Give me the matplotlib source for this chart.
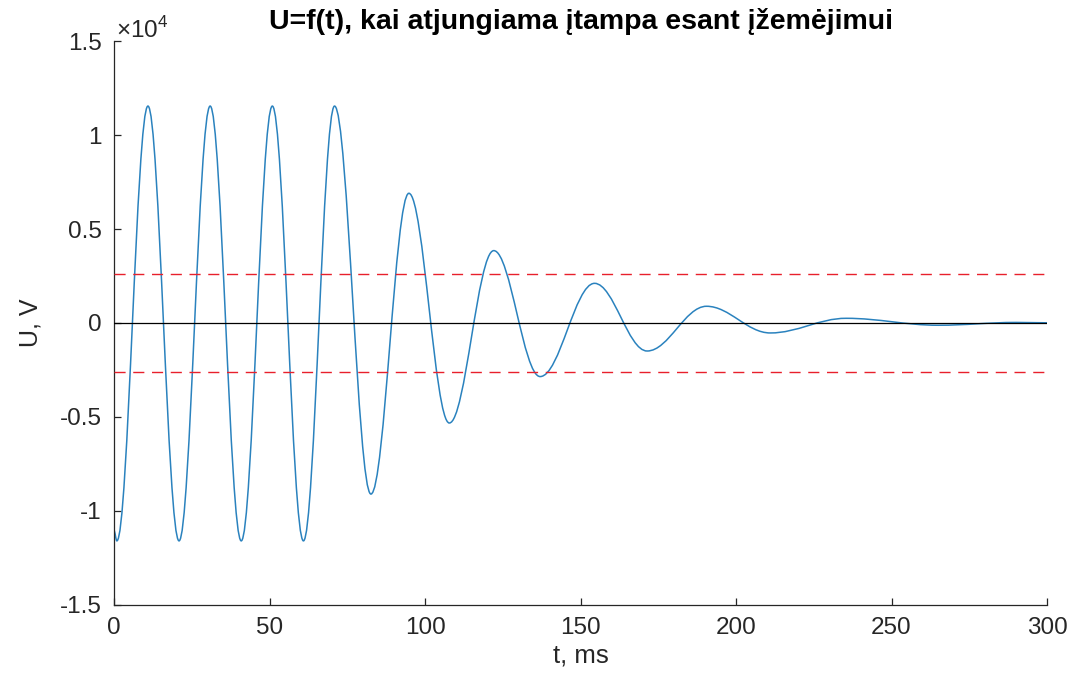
import matplotlib
matplotlib.use("Agg")
import matplotlib.pyplot as plt
from matplotlib.path import Path
from matplotlib.patches import PathPatch

plt.rcParams['font.family'] = ['Liberation Sans', 'DejaVu Sans']
plt.rcParams['mathtext.fontset'] = 'custom'
plt.rcParams['mathtext.rm'] = 'Liberation Sans'

# turning points of the voltage after disconnection (t in ms, U in V)
t_turn = [0.0, 0.9, 10.9, 20.9, 30.9, 40.9, 50.9, 60.9, 70.9, 82.6, 94.8,
          107.8, 122.1, 137.0, 154.5, 171.4, 190.5, 211.0, 235.4, 265.0,
          290.0, 300.0]
u_turn = [-11050, -11590, 11540, -11590, 11540, -11590, 11540, -11590, 11540,
          -9100, 6900, -5320, 3850, -2850, 2110, -1490, 890, -530, 250, -120,
          30, 10]

u_limit = 2600          # allowed voltage level, V
t_span = [0, 300]
y_ticks = [-15000, -10000, -5000, 0, 5000, 10000, 15000]
y_ticklabels = ['-1.5', '-1', '-0.5', '0', '0.5', '1', '1.5']
x_ticks = [0, 50, 100, 150, 200, 250, 300]

fig = plt.figure(figsize=(10.81, 6.77), dpi=100)
ax = fig.add_axes([0.1055, 0.1064, 0.8631, 0.833])

# smooth curve through the turning points (horizontal tangent at each one)
verts = [(t_turn[0], u_turn[0])]
codes = [Path.MOVETO]
for t0, u0, t1, u1 in zip(t_turn[:-1], u_turn[:-1], t_turn[1:], u_turn[1:]):
    d = (t1 - t0) * 0.363
    verts += [(t0 + d, u0), (t1 - d, u1), (t1, u1)]
    codes += [Path.CURVE4] * 3
ax.add_patch(PathPatch(Path(verts, codes), fill=False, edgecolor='#2a82be',
                       lw=1.1, zorder=2))

ax.plot(t_span, [0, 0], color='black', lw=0.9, zorder=3)
ax.plot(t_span, [u_limit, u_limit], color='#e8202c', lw=1.0,
        dashes=(8, 5.5), zorder=3)
ax.plot(t_span, [-u_limit, -u_limit], color='#e8202c', lw=1.0,
        dashes=(8, 5.5), zorder=3)

ax.set_xlim(0, 300)
ax.set_ylim(-15000, 15000)
ax.set_xticks(x_ticks)
ax.set_yticks(y_ticks)
ax.set_yticklabels(y_ticklabels)

for side in ['top', 'right']:
    ax.spines[side].set_visible(False)
for side in ['left', 'bottom']:
    ax.spines[side].set_color('#262626')
    ax.spines[side].set_linewidth(0.9)
ax.tick_params(direction='in', length=5, width=0.9, colors='#262626',
               labelsize=17.5, pad=9)

ax.set_title('U=f(t), kai atjungiama įtampa esant įžemėjimui',
             fontsize=20.5, fontweight='bold', pad=9)
ax.set_xlabel('t, ms', fontsize=18.5, color='#262626', labelpad=3)
ax.set_ylabel('U, V', fontsize=18, color='#262626', labelpad=12)
fig.text(0.107, 0.944, r'$\times10^{4}$', fontsize=17.5, color='#262626',
         va='baseline', ha='left')

fig.savefig('out.png', dpi=100)
